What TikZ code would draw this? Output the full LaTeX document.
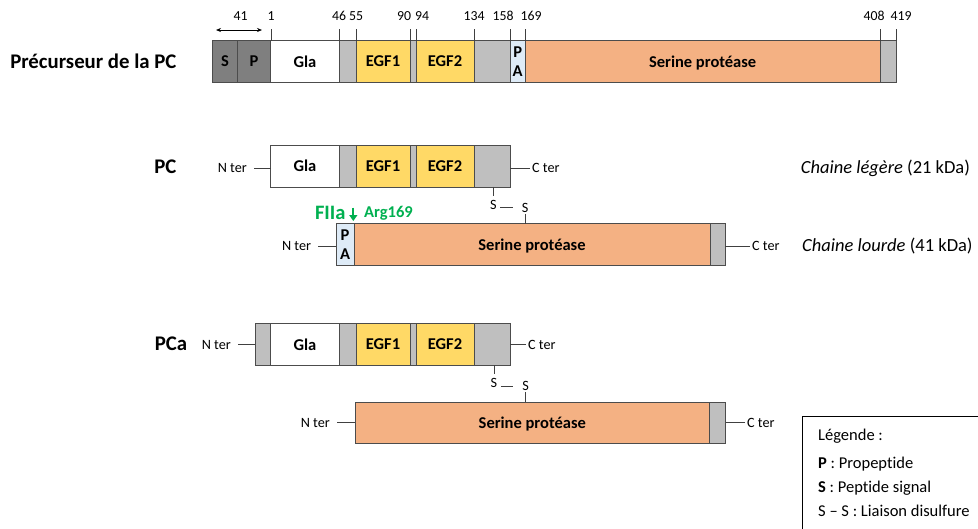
\documentclass[tikz,border=0pt]{standalone}
\usepackage{fontspec}
\setmainfont{Carlito}[Ligatures={NoCommon}]
\usetikzlibrary{arrows.meta}
\definecolor{segdark}{HTML}{7F7F7F}
\definecolor{seggrey}{HTML}{BFBFBF}
\definecolor{egfyel}{HTML}{FFD966}
\definecolor{protsal}{HTML}{F4B183}
\definecolor{paBlue}{HTML}{DEEBF7}
\definecolor{thrgreen}{HTML}{00B050}
\tikzset{
    seg/.style={draw=black!70, line width=0.8pt, anchor=west, minimum height=41.5pt, inner sep=0pt, outer sep=0pt, align=center, text depth=0pt, font=\bfseries\fontsize{16.5}{18.5}\selectfont},
    numlab/.style={anchor=base, inner sep=0pt, font=\fontsize{13.8}{16}\selectfont},
    rowlab/.style={anchor=base east, inner sep=0pt, font=\bfseries\fontsize{20.8}{24}\selectfont},
    tagL/.style={anchor=east, inner xsep=7pt, inner ysep=0pt, font=\fontsize{14.2}{17}\selectfont},
    tagR/.style={anchor=west, inner xsep=2pt, inner ysep=0pt, font=\fontsize{14.2}{17}\selectfont},
    ssbond/.style={inner xsep=3.5pt, inner ysep=1.5pt, font=\fontsize{14.2}{17}\selectfont},
    chainlab/.style={anchor=base west, inner sep=0pt, font=\fontsize{18.5}{22}\selectfont},
    legtxt/.style={anchor=base west, inner sep=0pt, font=\fontsize{16.5}{20}\selectfont},
    link/.style={draw=black!75, line width=0.8pt},
}
\begin{document}
\begin{tikzpicture}[x=1pt, y=-1pt]
            \useasboundingbox (0,0) rectangle (978,528);
            \clip (0,0) rectangle (978,528);
            \node[rowlab] (titlePre) at (176.7,68.3) {Précurseur de la PC};
            \foreach \id/\xa/\xb/\col/\txt in {s/212.7/237.3/segdark/S, p/237.3/270.7/segdark/P, gla/270.7/339.3/white/Gla, l1/339.3/356/seggrey/{}, egfA/356/410/egfyel/EGF1, l2/410/416/seggrey/{}, egfB/416/474/egfyel/EGF2, l3/474/510/seggrey/{}, pa/510/525.3/paBlue/{P\\A}, sp/525.3/880/protsal/Serine protéase, ct/880/896/seggrey/{}} {
                \node[seg, fill=\col, minimum width={(\xb-\xa)*1pt}] (pre\id) at (\xa,61.5) {\txt};
            }
            \foreach \tx/\lx/\num in {271/271/1, 339.3/339/46, 356/356/55, 410/404/90, 416/422/94, 474/474/134, 510/503/158, 525.3/531/169, 880/874/408, 896/901/419} {
                \draw[link] (\tx,29) -- (\tx,40.7);
                \node[numlab] (pos\num) at (\lx,20.7) {\num};
            }
            \coordinate (sigL) at (216,30);
            \coordinate (sigR) at (262,30);
            \draw[line width=0.7pt, {Stealth[length=5pt,width=4pt]}-{Stealth[length=5pt,width=4pt]}] (sigL) -- (sigR);
            \node[numlab] (len41) at (240.7,20.7) {41};
            \foreach \row/\yc in {pc/166.2, pca/344.3} {
                \foreach \id/\xa/\xb/\col/\txt in {gla/270.7/339.3/white/Gla, l1/339.3/356/seggrey/{}, egfA/356/410/egfyel/EGF1, l2/410/416/seggrey/{}, egfB/416/474/egfyel/EGF2, l3/474/510/seggrey/{}} {
                    \node[seg, fill=\col, minimum width={(\xb-\xa)*1pt}] (\row\id) at (\xa,\yc) {\txt};
                }
            }
            \node[rowlab] (titlePC) at (176.7,173.3) {PC};
            \node[tagL] (pcN) at (254,168.3) {N ter};
            \node[tagR] (pcC) at (530,168.3) {C ter};
            \draw[link] (pcN.east) -- (pcN.east -| pcgla.west);
            \draw[link] (pcC.west) -- (pcC.west -| pcl3.east);
            \node[seg, fill=paBlue, minimum width=18pt] (pcpa) at (336,244.6) {P\\A};
            \node[seg, fill=protsal, minimum width=356pt] (pcsp) at (354,244.6) {Serine protéase};
            \node[seg, fill=seggrey, minimum width=15.3pt] (pcct) at (710,244.6) {};
            \node[tagL] (pcHN) at (318.3,246) {N ter};
            \node[tagR] (pcHC) at (750,246) {C ter};
            \draw[link] (pcHN.east) -- (pcHN.east -| pcpa.west);
            \draw[link] (pcHC.west) -- (pcHC.west -| pcct.east);
            \node[ssbond] (pcS1) at (493.5,205) {S};
            \node[ssbond] (pcS2) at (525.2,207.6) {S};
            \draw[link, shorten >=3pt] (pcS1.north |- pcl3.south) -- (pcS1.north);
            \draw[link, shorten >=5.5pt] (pcS2.west -| pcS1.east) -- (pcS2.west);
            \draw[link] (pcS2.south) -- (pcS2.south |- pcsp.north);
            \node[anchor=base east, inner sep=0pt, text=thrgreen, font=\bfseries\fontsize{20.5}{24}\selectfont] (fiia) at (345.7,219.5) {FIIa};
            \node[anchor=base west, inner sep=0pt, text=thrgreen, font=\bfseries\fontsize{16.5}{19}\selectfont] (arg) at (364,217.3) {Arg169};
            \coordinate (cutTop) at (353.3,207.5);
            \coordinate (cutTip) at (353.3,221);
            \draw[thrgreen, line width=2.2pt, -{Triangle[length=6pt,width=8pt]}] (cutTop) -- (cutTip);
            \node[chainlab] (light) at (800.7,173.6) {\textit{Chaine légère} (21 kDa)};
            \node[chainlab] (heavy) at (802,251) {\textit{Chaine lourde} (41 kDa)};
            \node[seg, fill=seggrey, minimum width=15.7pt] (pcagp) at (255,344.3) {};
            \node[rowlab] (titlePCa) at (187.3,350.7) {PCa};
            \node[tagL] (pcaN) at (238,344.5) {N ter};
            \node[tagR] (pcaC) at (526,344.5) {C ter};
            \draw[link] (pcaN.east) -- (pcaN.east -| pcagp.west);
            \draw[link] (pcaC.west) -- (pcaC.west -| pcal3.east);
            \node[seg, fill=protsal, minimum width=354pt] (pcasp) at (355.3,422.8) {Serine protéase};
            \node[seg, fill=seggrey, minimum width=16.4pt] (pcact) at (709.3,422.8) {};
            \node[tagL] (pcaHN) at (337,422.7) {N ter};
            \node[tagR] (pcaHC) at (745,422.7) {C ter};
            \draw[link] (pcaHN.east) -- (pcaHN.east -| pcasp.west);
            \draw[link] (pcaHC.west) -- (pcaHC.west -| pcact.east);
            \node[ssbond] (pcaS1) at (494,382.8) {S};
            \node[ssbond] (pcaS2) at (525.7,386) {S};
            \draw[link, shorten >=2.8pt] (pcaS1.north |- pcal3.south) -- (pcaS1.north);
            \draw[link, shorten >=5.5pt] (pcaS2.west -| pcaS1.east) -- (pcaS2.west);
            \draw[link] (pcaS2.south) -- (pcaS2.south |- pcasp.north);
            \draw[line width=0.8pt] (802,416) rectangle (990,540);
            \node[legtxt] (legT) at (818,440) {Légende :};
            \node[legtxt] (legP) at (818,468.3) {\textbf{P} : Propeptide};
            \node[legtxt] (legS) at (818,492.3) {\textbf{S} : Peptide signal};
            \node[legtxt] (legSS) at (818,516.7) {S – S : Liaison disulfure};
        \end{tikzpicture}
\end{document}
